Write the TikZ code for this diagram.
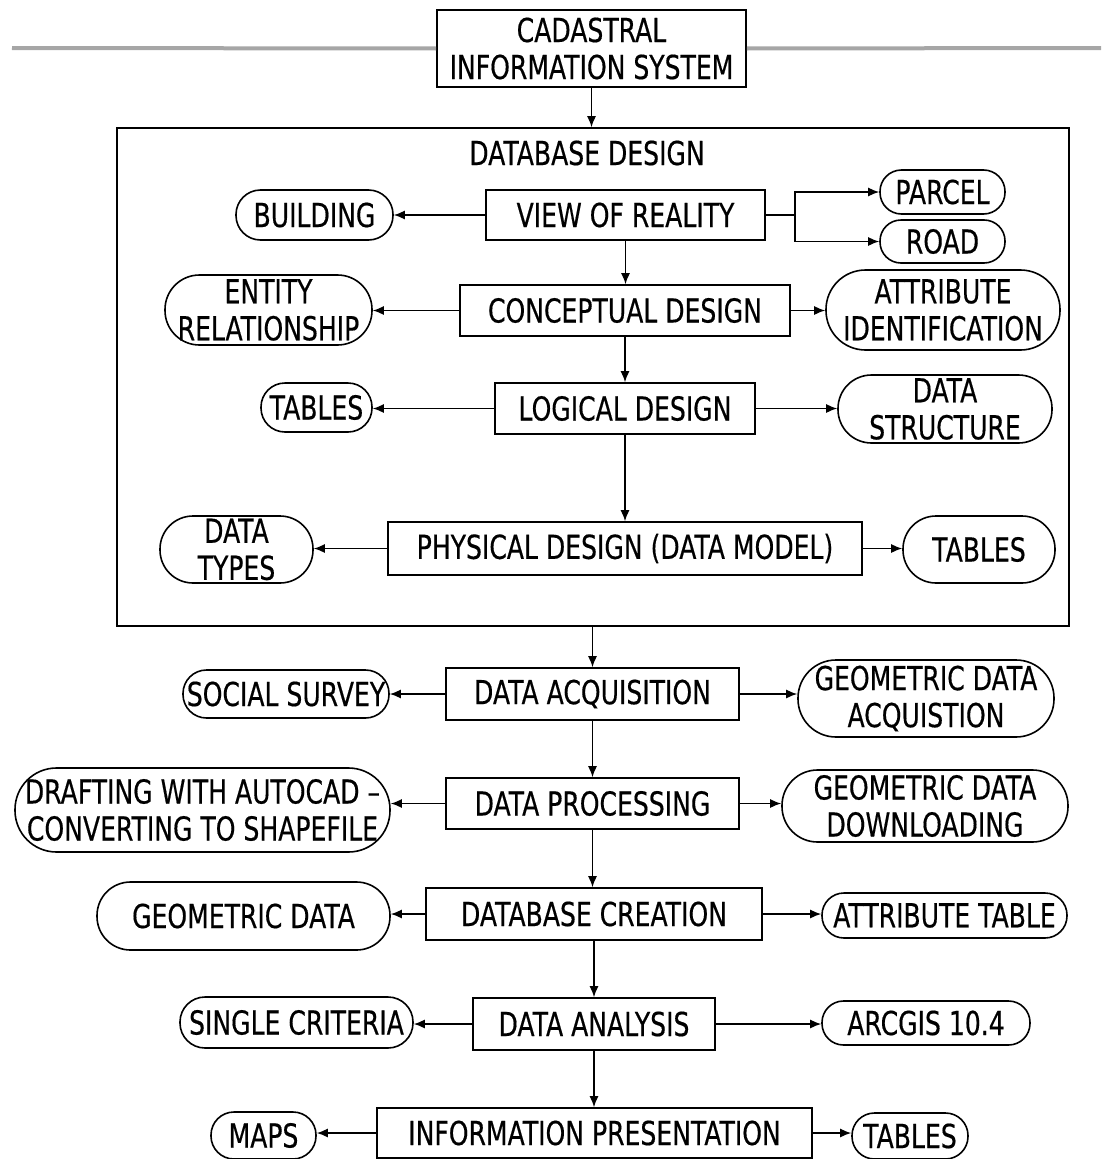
\documentclass[tikz,border=0pt]{standalone}
\usepackage{fontspec}
\setmainfont{DejaVu Sans}[FakeStretch=0.76,FakeBold=0.4]
\usetikzlibrary{arrows.meta}
\newcommand\dfont{\fontsize{33}{37}\selectfont}
\begin{document}
\begin{tikzpicture}[x=1pt,y=-1pt,
 box/.style={draw,line width=1.6pt,rectangle,inner sep=0pt,align=center,font=\dfont},
 pill/.style={draw,line width=1.6pt,rectangle,rounded corners=#1,inner sep=0pt,align=center,font=\dfont},
 arr/.style={line width=1.4pt,-{Latex[length=11pt,width=9pt]}},
 ln/.style={line width=1.4pt},
]
\useasboundingbox (0,0) rectangle (1101,1159);
% top line
\coordinate (tl) at (12,48);
\coordinate (tr) at (1101,48);
\node[box,minimum width=309,minimum height=77] (cis) at (591.5,48.5) {CADASTRAL\\INFORMATION SYSTEM};
\draw[line width=4pt,gray!70] (tl) -- (cis.west);
\draw[line width=4pt,gray!70] (cis.east) -- (tr);
% database design frame
\node[draw,line width=1.6pt,rectangle,minimum width=952,minimum height=498,inner sep=0pt] (dbd) at (593,377) {};
\node[font=\dfont,inner sep=0pt] (dbt) at (587,153) {DATABASE DESIGN};
\draw[arr] (cis.south) -- (cis.south |- dbd.north);
% inner nodes
\node[box,minimum width=279,minimum height=50] (vor) at (625.5,215) {VIEW OF REALITY};
\node[pill=24.5,minimum width=157,minimum height=50] (bld) at (314.5,215) {BUILDING};
\node[pill=21.5,minimum width=125,minimum height=44] (parcel) at (942.5,192) {PARCEL};
\node[pill=21,minimum width=125,minimum height=43] (road) at (942.5,241.5) {ROAD};
\node[box,minimum width=330,minimum height=51] (con) at (625,310.5) {CONCEPTUAL DESIGN};
\node[pill=34.5,minimum width=207,minimum height=70] (ent) at (268.5,310) {ENTITY\\RELATIONSHIP};
\node[pill=39.5,minimum width=234,minimum height=80] (att) at (943,310) {ATTRIBUTE\\IDENTIFICATION};
\node[box,minimum width=260,minimum height=51] (log) at (625,408.5) {LOGICAL DESIGN};
\node[pill=24,minimum width=111,minimum height=49] (tab1) at (316.5,407.5) {TABLES};
\node[pill=33.5,minimum width=214,minimum height=68] (dst) at (945,409) {DATA\\STRUCTURE};
\node[box,minimum width=474,minimum height=53] (phy) at (625,548.5) {PHYSICAL DESIGN (DATA MODEL)};
\node[pill=33,minimum width=153,minimum height=67] (dty) at (236.5,549.5) {DATA\\TYPES};
\node[pill=33,minimum width=152,minimum height=67] (tab2) at (979,549.5) {TABLES};
% lower nodes
\node[box,minimum width=293,minimum height=52] (acq) at (592.5,694) {DATA ACQUISITION};
\node[pill=23.5,minimum width=206,minimum height=48] (soc) at (286,694) {SOCIAL SURVEY};
\node[pill=38,minimum width=256,minimum height=77] (gda) at (926,698.5) {GEOMETRIC DATA\\ACQUISTION};
\node[box,minimum width=293,minimum height=51] (proc) at (592.5,803.5) {DATA PROCESSING};
\node[pill=41.5,minimum width=375,minimum height=84] (dra) at (202.5,810) {DRAFTING WITH AUTOCAD --\\CONVERTING TO SHAPEFILE};
\node[pill=35.5,minimum width=286,minimum height=72] (gdd) at (925,806) {GEOMETRIC DATA\\DOWNLOADING};
\node[box,minimum width=336,minimum height=52] (cre) at (594,914) {DATABASE CREATION};
\node[pill=33.5,minimum width=293,minimum height=68] (geo) at (243.5,916) {GEOMETRIC DATA};
\node[pill=22,minimum width=245,minimum height=45] (attt) at (944.5,915.5) {ATTRIBUTE TABLE};
\node[box,minimum width=242,minimum height=52] (ana) at (594,1024) {DATA ANALYSIS};
\node[pill=25,minimum width=233,minimum height=51] (sin) at (296.5,1022.5) {SINGLE CRITERIA};
\node[pill=21.5,minimum width=208,minimum height=44] (arc) at (926,1023) {ARCGIS 10.4};
\node[box,minimum width=435,minimum height=50] (inf) at (594.5,1133) {INFORMATION PRESENTATION};
\node[pill=23,minimum width=105,minimum height=47] (maps) at (263.5,1135.5) {MAPS};
\node[pill=22.5,minimum width=116,minimum height=46] (tab3) at (910,1136) {TABLES};
% connectors
\draw[arr] (vor.west) -- (vor.west -| bld.east);
\coordinate (j) at (795,215);
\draw[ln] (vor.east) -- (j);
\draw[arr] (j) |- (parcel.west);
\draw[arr] (j) |- (road.west);
\draw[arr] (vor.south) -- (vor.south |- con.north);
\draw[arr] (con.west) -- (con.west -| ent.east);
\draw[arr] (con.east) -- (con.east -| att.west);
\draw[arr] (con.south) -- (con.south |- log.north);
\draw[arr] (log.west) -- (log.west -| tab1.east);
\draw[arr] (log.east) -- (log.east -| dst.west);
\draw[arr] (log.south) -- (log.south |- phy.north);
\draw[arr] (phy.west) -- (phy.west -| dty.east);
\draw[arr] (phy.east) -- (phy.east -| tab2.west);
\draw[arr] (acq.north |- dbd.south) -- (acq.north);
\draw[arr] (acq.west) -- (acq.west -| soc.east);
\draw[arr] (acq.east) -- (acq.east -| gda.west);
\draw[arr] (acq.south) -- (acq.south |- proc.north);
\draw[arr] (proc.west) -- (proc.west -| dra.east);
\draw[arr] (proc.east) -- (proc.east -| gdd.west);
\draw[arr] (proc.south) -- (proc.south |- cre.north);
\draw[arr] (cre.west) -- (cre.west -| geo.east);
\draw[arr] (cre.east) -- (cre.east -| attt.west);
\draw[arr] (cre.south) -- (cre.south |- ana.north);
\draw[arr] (ana.west) -- (ana.west -| sin.east);
\draw[arr] (ana.east) -- (ana.east -| arc.west);
\draw[arr] (ana.south) -- (ana.south |- inf.north);
\draw[arr] (inf.west) -- (inf.west -| maps.east);
\draw[arr] (inf.east) -- (inf.east -| tab3.west);
\end{tikzpicture}
\end{document}
